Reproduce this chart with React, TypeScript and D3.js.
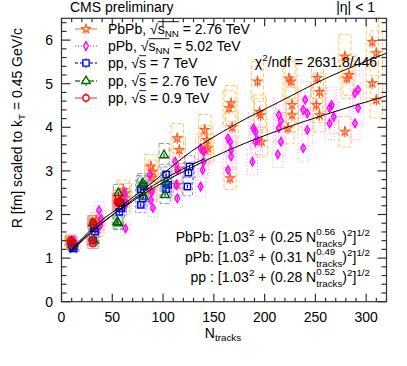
import React, { useEffect, useRef } from "react";
import * as d3 from "d3";

// ---- data ----
const xTickValues = [0, 50, 100, 150, 200, 250, 300];
const yTickValues = [0, 1, 2, 3, 4, 5, 6];

// [Ntracks, R]
const pbpbPoints = [
  [9, 1.35], [11, 1.28],
  [34, 1.87], [36, 1.8], [35, 1.65],
  [61, 2.56], [63, 2.49], [62, 2.38], [61, 2.2],
  [88, 3.1], [90, 2.98], [89, 2.84], [88, 2.55],
  [114, 3.75], [116, 3.48], [115, 3.05], [114, 2.68],
  [141, 3.94], [143, 3.71], [144, 3.52], [141, 3.48],
  [167, 4.55], [165, 4.44], [168, 4.0], [166, 2.83],
  [193, 5.05], [195, 4.35], [196, 4.28], [197, 3.67],
  [224, 5.12], [226, 5.05], [227, 4.51], [227, 4.28], [223, 3.98],
  [252, 5.13], [254, 4.81], [251, 4.51], [254, 4.28],
  [279, 5.62], [283, 5.2], [281, 5.12], [279, 3.9],
  [306, 5.96], [310, 5.7], [306, 5.01], [310, 4.63],
];

const ppbPoints = [
  [12, 1.4], [14, 1.3],
  [37, 2.1], [39, 1.9], [38, 1.75],
  [62, 2.49], [64, 2.26], [63, 1.68],
  [87, 2.91], [89, 2.52], [88, 2.33], [90, 2.15],
  [112, 3.21], [114, 3.02], [113, 2.68], [114, 2.37],
  [137, 3.52], [140, 3.44], [140, 3.21], [139, 3.02], [137, 2.64],
  [164, 3.75], [166, 3.67], [167, 3.48], [167, 3.33], [164, 3.02],
  [189, 3.98], [191, 3.9], [193, 3.71], [191, 3.67], [188, 3.21],
  [214, 4.28], [216, 4.15], [214, 3.98], [216, 3.67], [213, 3.38],
  [240, 4.63], [238, 4.4], [242, 4.32], [242, 3.94], [238, 3.52],
  [266, 4.51], [264, 4.44], [268, 4.24], [264, 4.09],
  [292, 4.86], [289, 4.78], [292, 4.44], [289, 4.09],
];

const pp7Points = [
  [10, 1.32], [11, 1.26], [12, 1.22],
  [32, 1.68], [33, 1.61], [31, 1.4],
  [58, 2.26], [59, 2.14], [57, 2.06],
  [81, 2.65], [78, 2.58], [80, 2.37], [78, 2.22],
  [103, 2.92], [105, 2.68], [103, 2.58],
  [126, 3.1], [125, 2.96], [124, 2.64],
];

const pp276Points = [
  [10, 1.38], [11, 1.3],
  [31, 1.8], [32, 1.4],
  [56, 2.49], [58, 2.3], [55, 1.83], [56, 1.8],
  [80, 2.72], [79, 2.68], [81, 2.41],
  [101, 3.36], [103, 2.75], [102, 2.45],
];

const pp09Points = [
  [9, 1.41], [10, 1.38], [11, 1.3],
  [31, 1.83], [32, 1.76], [30, 1.41], [31, 1.33],
  [56, 2.37], [57, 2.31], [55, 2.29], [56, 2.25],
];

// fitted curves, sampled from the figure
const pbpbFit = [[8, 1.15], [35, 1.78], [62, 2.25], [87, 2.69], [128, 3.45], [170, 4.05], [215, 4.59], [260, 5.12], [320, 5.7]];
const ppbFit = [[8, 1.15], [35, 1.72], [62, 2.18], [90, 2.6], [128, 3.08], [170, 3.53], [215, 3.94], [265, 4.33], [320, 4.72]];
const ppFit = [[8, 1.12], [35, 1.7], [62, 2.2], [90, 2.66], [128, 3.14], [140, 3.27]];

const series = [
  { name: "PbPb", pts: pbpbPoints, color: "#ff5a1f", line: "#ff8a55", box: "#ffc560", boxDash: "4,2", legDash: null, sym: d3.symbolStar, size: 23, sw: 1.1, stat: 0.13, sys: 0.09, bw: 6 },
  { name: "pPb", pts: ppbPoints, color: "#ff00ff", line: "#ff44ff", box: "#ff99ff", boxDash: "1,2", legDash: "1,2", sym: d3.symbolDiamond, size: 20, sw: 1.4, stat: 0.05, sys: 0.09, bw: 5 },
  { name: "pp7", pts: pp7Points, color: "#0000ff", line: "#3344ff", box: "#8c8cff", boxDash: "3,2", legDash: "3,2", sym: d3.symbolSquare, size: 40, sw: 1.4, stat: 0.04, sys: 0.08, bw: 5 },
  { name: "pp276", pts: pp276Points, color: "#006600", line: "#228822", box: "#7fb07f", boxDash: "5,2", legDash: "5,2", sym: d3.symbolTriangle, size: 32, sw: 1.4, stat: 0.04, sys: 0.08, bw: 5 },
  { name: "pp09", pts: pp09Points, color: "#ee0000", line: "#ff5555", box: "#ff8888", boxDash: null, legDash: null, sym: d3.symbolCircle, size: 32, sw: 1.4, stat: 0.04, sys: 0.08, bw: 5 },
];

type Seg = { t?: string; sup?: string; sub?: string; sqrt?: Seg[] };

const legendRows: Seg[][] = [
  [{ t: "PbPb, " }, { sqrt: [{ t: "s" }, { sub: "NN" }] }, { t: " = 2.76 TeV" }],
  [{ t: "pPb, " }, { sqrt: [{ t: "s" }, { sub: "NN" }] }, { t: " = 5.02 TeV" }],
  [{ t: "pp, " }, { sqrt: [{ t: "s" }] }, { t: " = 7 TeV" }],
  [{ t: "pp, " }, { sqrt: [{ t: "s" }] }, { t: " = 2.76 TeV" }],
  [{ t: "pp, " }, { sqrt: [{ t: "s" }] }, { t: " = 0.9 TeV" }],
];

const fitLabels: Seg[][] = [
  [{ t: "PbPb: [1.03" }, { sup: "2" }, { t: " + (0.25 N" }, { sup: "0.56", sub: "tracks" }, { t: ")" }, { sup: "2" }, { t: "]" }, { sup: "1/2" }],
  [{ t: "pPb: [1.03" }, { sup: "2" }, { t: " + (0.31 N" }, { sup: "0.49", sub: "tracks" }, { t: ")" }, { sup: "2" }, { t: "]" }, { sup: "1/2" }],
  [{ t: "pp : [1.03" }, { sup: "2" }, { t: " + (0.28 N" }, { sup: "0.52", sub: "tracks" }, { t: ")" }, { sup: "2" }, { t: "]" }, { sup: "1/2" }],
];

const FONT = "'Liberation Sans', Arial, Helvetica, sans-serif";

// draws segments left to right from x0, returns end x
function drawSegs(g: any, segs: Seg[], fs: number, x0 = 0): number {
  let x = x0;
  const small = fs * 0.7;
  const put = (t: string, size: number, dy: number) => {
    const el = g.append("text").attr("x", x).attr("y", dy)
      .attr("font-size", size).attr("font-family", FONT).attr("fill", "#000")
      .style("white-space", "pre").text(t);
    return (el.node() as SVGTextElement).getComputedTextLength();
  };
  for (const s of segs) {
    if (s.sqrt) {
      x += put("\u221A", fs, 0);
      const start = x;
      x = drawSegs(g, s.sqrt, fs, start);
      g.append("line").attr("x1", start).attr("x2", x)
        .attr("y1", -fs * 0.88).attr("y2", -fs * 0.88)
        .attr("stroke", "#000").attr("stroke-width", 0.9);
    } else if (s.sup || s.sub) {
      const both = !!(s.sup && s.sub);
      let w = 0;
      if (s.sup) w = Math.max(w, put(s.sup, small, -fs * (both ? 0.48 : 0.42)));
      if (s.sub) w = Math.max(w, put(s.sub, small, fs * (both ? 0.34 : 0.24)));
      x += w;
    } else if (s.t) {
      x += put(s.t, fs, 0);
    }
  }
  return x;
}

const App = () => {
  const ref = useRef<SVGSVGElement>(null);

  useEffect(() => {
    const svg = d3.select(ref.current);
    svg.selectAll("*").remove();

    const x = d3.scaleLinear().domain([0, 320]).range([61.5, 386.5]);
    const y = d3.scaleLinear().domain([0, 6.5]).range([301.7, 18.3]);
    const [x0, x1] = x.range();
    const [y0, y1] = y.range();

    svg.append("rect").attr("width", 407).attr("height", 366).attr("fill", "#fff");

    const plot = svg.append("g");

    // systematic boxes
    series.forEach((s) => {
      plot.append("g").selectAll("rect").data(s.pts).join("rect")
        .attr("x", (d) => x(d[0] - s.bw))
        .attr("width", (d) => x(d[0] + s.bw) - x(d[0] - s.bw))
        .attr("y", (d) => y(d[1] * (1 + s.sys)))
        .attr("height", (d) => y(d[1] * (1 - s.sys)) - y(d[1] * (1 + s.sys)))
        .attr("fill", "none").attr("stroke", s.box).attr("stroke-width", 1)
        .attr("stroke-dasharray", s.boxDash);
    });

    // markers + stat errors
    series.forEach((s) => {
      const g = plot.append("g");
      g.selectAll("line").data(s.pts).join("line")
        .attr("x1", (d) => x(d[0])).attr("x2", (d) => x(d[0]))
        .attr("y1", (d) => y(d[1] - s.stat)).attr("y2", (d) => y(d[1] + s.stat))
        .attr("stroke", s.color).attr("stroke-width", 1.2);
      const sym = d3.symbol().type(s.sym).size(s.size);
      g.selectAll("path").data(s.pts).join("path")
        .attr("d", sym as any)
        .attr("transform", (d) => `translate(${x(d[0])},${y(d[1])})`)
        .attr("fill", "none").attr("stroke", s.color).attr("stroke-width", s.sw);
    });

    // fit curves
    const line = d3.line<number[]>().x((d) => x(d[0])).y((d) => y(d[1])).curve(d3.curveMonotoneX);
    [pbpbFit, ppbFit, ppFit].forEach((f) => {
      plot.append("path").attr("d", line(f) as string)
        .attr("fill", "none").attr("stroke", "#000").attr("stroke-width", 1);
    });

    // frame and ticks
    const ax = svg.append("g").attr("stroke", "#333").attr("stroke-width", 1.2);
    ax.append("rect").attr("x", x0).attr("y", y1).attr("width", x1 - x0).attr("height", y0 - y1).attr("fill", "none");
    d3.range(0, 321, 10).forEach((v) => {
      const len = v % 50 === 0 ? 8 : 4;
      ax.append("line").attr("x1", x(v)).attr("x2", x(v)).attr("y1", y0).attr("y2", y0 - len);
      ax.append("line").attr("x1", x(v)).attr("x2", x(v)).attr("y1", y1).attr("y2", y1 + len);
    });
    d3.range(0, 6.51, 0.2).forEach((v) => {
      const major = Math.abs(v - Math.round(v)) < 1e-6;
      const len = major ? 9 : 5;
      ax.append("line").attr("x1", x0).attr("x2", x0 + len).attr("y1", y(v)).attr("y2", y(v));
      ax.append("line").attr("x1", x1).attr("x2", x1 - len).attr("y1", y(v)).attr("y2", y(v));
    });

    const lab = svg.append("g").attr("font-family", FONT).attr("font-size", 14).attr("fill", "#000");
    lab.selectAll(".xt").data(xTickValues).join("text").attr("class", "xt")
      .attr("x", (d) => x(d)).attr("y", 322).attr("text-anchor", "middle").text((d) => d);
    lab.selectAll(".yt").data(yTickValues).join("text").attr("class", "yt")
      .attr("x", 53).attr("y", (d) => y(d) + 5).attr("text-anchor", "end").text((d) => d);

    lab.append("text").attr("x", 70).attr("y", 12).text("CMS preliminary");
    lab.append("text").attr("x", 375).attr("y", 12).attr("text-anchor", "end").text("|\u03B7| < 1");

    // axis titles
    const xt = svg.append("g");
    const xw = drawSegs(xt, [{ t: "N" }, { sub: "tracks" }], 14);
    xt.attr("transform", `translate(${223 - xw / 2},338)`);

    const yt = svg.append("g");
    const yw = drawSegs(yt, [{ t: "R [fm] scaled to k" }, { sub: "T" }, { t: " = 0.45 GeV/c" }], 14);
    yt.attr("transform", `translate(22,${28 + yw}) rotate(-90)`);

    // chi2
    const chi = svg.append("g");
    const cw = drawSegs(chi, [{ t: "\u03C7" }, { sup: "2" }, { t: "/ndf = 2631.8/446" }], 14);
    chi.attr("transform", `translate(${377 - cw},67)`);

    // fit formulas
    [242, 262, 282].forEach((by, i) => {
      const g = svg.append("g");
      const w = drawSegs(g, fitLabels[i], 14);
      g.attr("transform", `translate(${370 - w},${by})`);
    });

    // legend
    const legY = [29, 46, 63, 81, 98];
    series.forEach((s, i) => {
      const g = svg.append("g").attr("transform", `translate(0,${legY[i]})`);
      g.append("line").attr("x1", 75).attr("x2", 97).attr("y1", 0).attr("y2", 0)
        .attr("stroke", s.line).attr("stroke-width", 1.3).attr("stroke-dasharray", s.legDash);
      g.append("line").attr("x1", 86).attr("x2", 86).attr("y1", -5).attr("y2", 5)
        .attr("stroke", s.line).attr("stroke-width", 1.2);
      g.append("path").attr("d", d3.symbol().type(s.sym).size(s.size)() as string)
        .attr("transform", "translate(86,0)")
        .attr("fill", "#fff").attr("stroke", s.color).attr("stroke-width", s.sw);
      const tg = g.append("g").attr("transform", "translate(108,5)");
      drawSegs(tg, legendRows[i], 14);
    });
  }, []);

  return (
    <svg ref={ref} width={407} height={366} style={{ position: "absolute", left: 0, top: 0 }} />
  );
};

export default App;
